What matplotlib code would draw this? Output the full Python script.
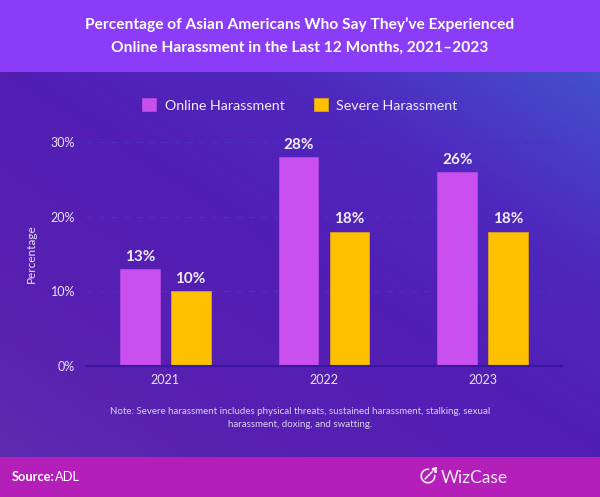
import numpy as np
import matplotlib.pyplot as plt
from matplotlib.colors import LinearSegmentedColormap
from matplotlib.patches import Arc, Circle

plt.rcParams['font.family'] = ['Lato', 'DejaVu Sans']

# data
years = ['2021', '2022', '2023']
online = [13, 28, 26]
severe = [10, 18, 18]
series_names = ['Online Harassment', 'Severe Harassment']
yticks = [0, 10, 20, 30]

title = 'Percentage of Asian Americans Who Say They\u2019ve Experienced\nOnline Harassment in the Last 12 Months, 2021\u20132023'
note = 'Note: Severe harassment includes physical threats, sustained harassment, stalking, sexual\nharassment, doxing, and swatting.'

W, H = 600, 497
fig = plt.figure(figsize=(W / 100, H / 100), dpi=100)

def box(x0, y0, x1, y1):
    # pixel box (top-left origin) -> figure fraction
    return [x0 / W, 1 - y1 / H, (x1 - x0) / W, (y1 - y0) / H]

# background gradient for the main area
bg = fig.add_axes(box(0, 72, 600, 457))
bg.set_axis_off()
nx, ny = 200, 130
gx, gy = np.meshgrid(np.linspace(0, 1, nx), np.linspace(0, 1, ny))
# 0 at top-right, 1 at bottom-left
t = ((1 - gx) + gy) / 2
cmap = LinearSegmentedColormap.from_list('bgc', ['#4450CC', '#4E28BE', '#521EB4', '#5720B2', '#5E2AAE'])
bg.imshow(t, cmap=cmap, aspect='auto', extent=[0, 1, 0, 1], origin='upper', vmin=0, vmax=1)
bg.set_xlim(0, 1)
bg.set_ylim(0, 1)

# title band and footer
fig.patches.append(plt.Rectangle((0, 1 - 72 / H), 1, 72 / H, transform=fig.transFigure, color='#8A3CF8', zorder=-1))
fig.patches.append(plt.Rectangle((0, 0), 1, 40 / H, transform=fig.transFigure, color='#B41EB9', zorder=-1))

fig.text(0.5, 1 - 36 / H, title, ha='center', va='center', color='white', fontsize=11.2,
         fontweight='bold', linespacing=1.8)

# chart
ax = fig.add_axes(box(86, 142, 562, 366))
ax.patch.set_alpha(0)
x = np.arange(len(years))
bw = 0.25
off = 0.16
b1 = ax.bar(x - off, online, bw, color='#C94FEF', edgecolor='#B248E0', linewidth=0.6, zorder=3, label=series_names[0])
b2 = ax.bar(x + off, severe, bw, color='#FFC000', edgecolor='#D8A020', linewidth=0.6, zorder=3, label=series_names[1])
for bars in (b1, b2):
    for b in bars:
        ax.text(b.get_x() + b.get_width() / 2, b.get_height() + 0.7, f'{b.get_height():.0f}%',
                ha='center', va='bottom', color='#F0ECFA', fontsize=11, fontweight='bold')

ax.set_xlim(-0.5, 2.5)
ax.set_ylim(0, 30)
ax.set_yticks(yticks)
ax.set_yticklabels([f'{v}%' for v in yticks])
ax.set_xticks(x)
ax.set_xticklabels(years)
ax.tick_params(length=0, colors='#E8E2F6', labelsize=9)
ax.tick_params(axis='y', pad=8)
ax.tick_params(axis='x', pad=6)
for s in ['top', 'right', 'left']:
    ax.spines[s].set_visible(False)
ax.spines['bottom'].set_color('#3A16A0')
ax.spines['bottom'].set_linewidth(1.5)
ax.spines['bottom'].set_zorder(4)
ax.yaxis.grid(True, linestyle=(0, (5, 5)), color='#4A2EC8', linewidth=0.9, zorder=0)
ax.set_axisbelow(True)
ax.set_ylabel('Percentage', color='#E8E2F6', fontsize=8.5, labelpad=10)

leg = fig.legend(handles=[b1, b2], loc='center', bbox_to_anchor=(0.5, 1 - 105 / H), ncol=2, frameon=False,
                 fontsize=10.3, labelcolor='#F0ECFA', handlelength=1.0, handleheight=1.0,
                 columnspacing=2.0, handletextpad=0.6)

fig.text(0.5, 1 - 418 / H, note, ha='center', va='center', color='#D8D0EE', fontsize=7.0, linespacing=1.55)

# footer texts
fig.text(12 / W, 20 / H, 'Source:', ha='left', va='center', color='white', fontsize=9.3, fontweight='bold')
fig.text(55 / W, 20 / H, 'ADL', ha='left', va='center', color='white', fontsize=9.3)
fig.text(441 / W, 19 / H, 'WizCase', ha='left', va='center', color='#F4E8F6', fontsize=12.5)
lax = fig.add_axes(box(419, 467, 437, 485))
lax.set_axis_off()
lax.set_xlim(-1, 1)
lax.set_ylim(-1, 1)
lax.add_patch(Arc((0, 0), 1.5, 1.5, theta1=80, theta2=370, color='#F4E8F6', lw=1.2))
lax.plot([-0.3, 0.45], [-0.3, 0.45], color='#F4E8F6', lw=1.2)
for cx, cy in [(0.6, 0.75), (0.85, 0.5), (0.85, 0.85)]:
    lax.add_patch(Circle((cx, cy), 0.1, color='#F4E8F6'))

fig.savefig('out.png', dpi=100)
